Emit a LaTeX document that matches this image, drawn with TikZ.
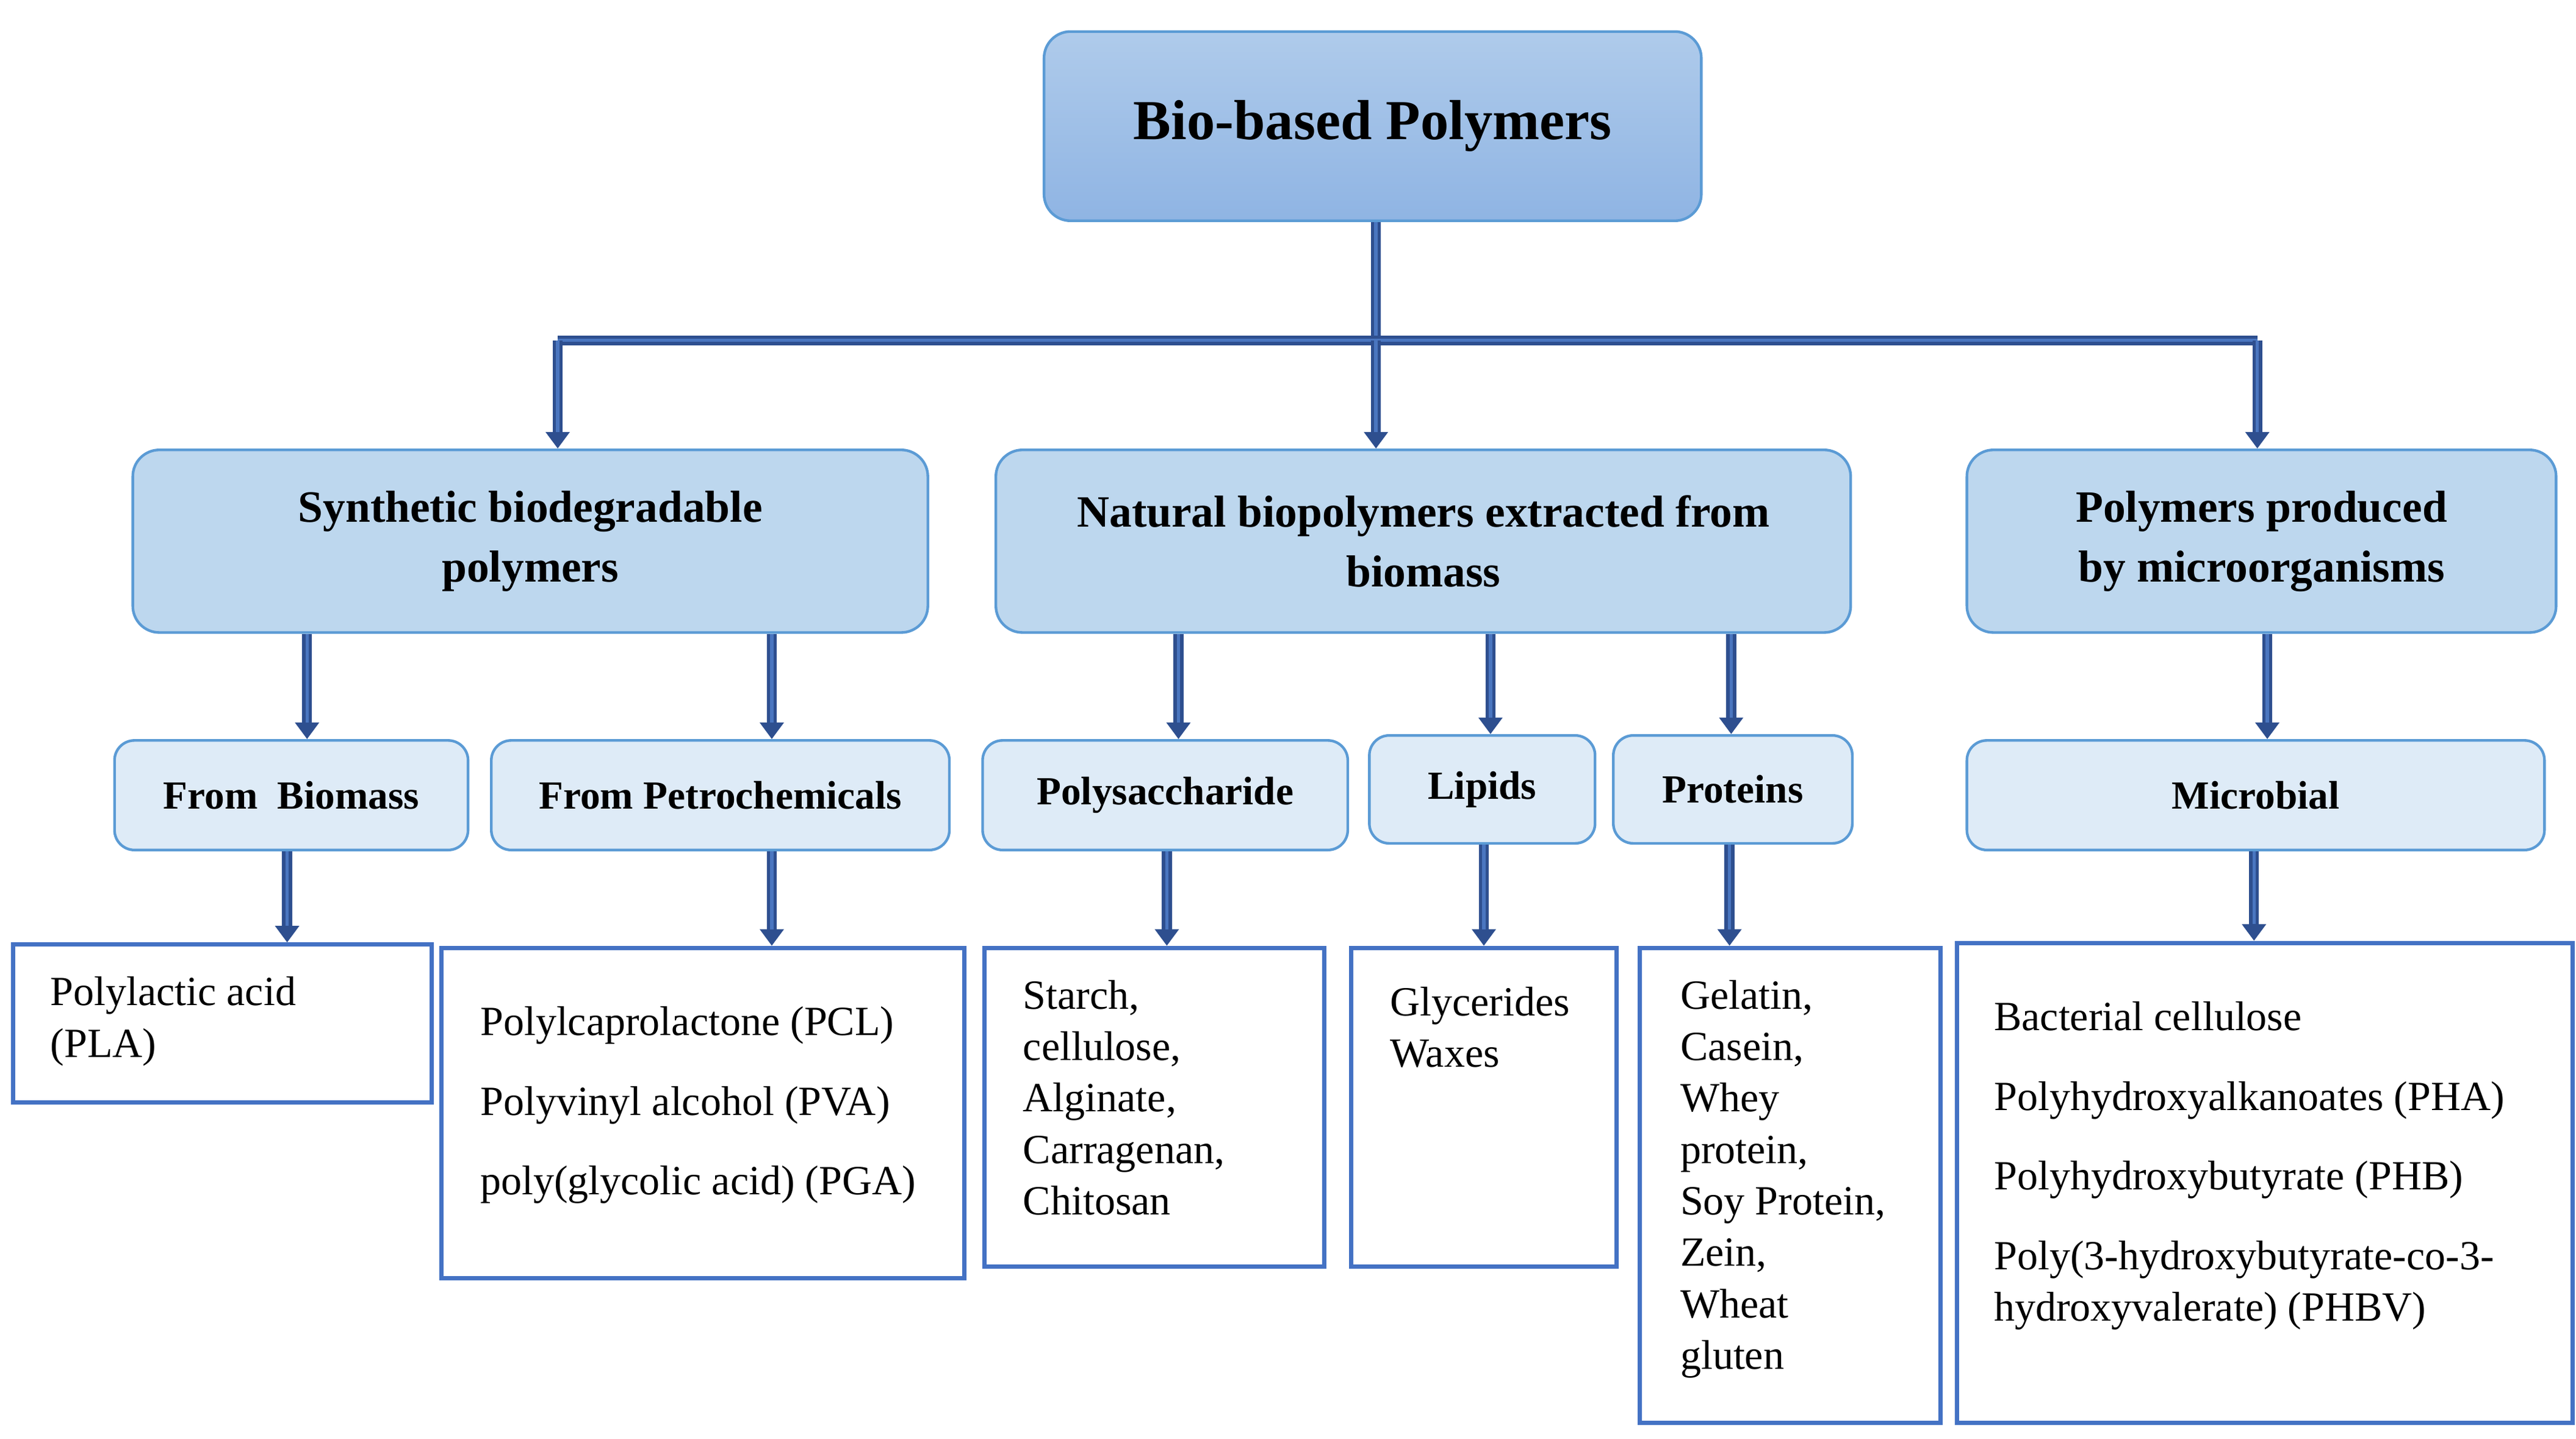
\documentclass[tikz,border=0pt]{standalone}
\usepackage{fontspec}
\setmainfont{Liberation Serif}
\usetikzlibrary{arrows.meta,shadings}
\definecolor{dk}{HTML}{2E4F8F}
\definecolor{md}{HTML}{4A76C0}
\definecolor{bd}{HTML}{5B9BD5}
\definecolor{lv2}{HTML}{BDD7EE}
\definecolor{lv3}{HTML}{DEEBF7}
\definecolor{bx}{HTML}{4472C4}
\definecolor{tt}{HTML}{AFCBEB}
\definecolor{tb}{HTML}{8FB4E3}
\begin{document}
\begin{tikzpicture}[x=0.5pt,y=-0.5pt,
 title/.style={draw=bd,line width=0.8pt,rounded corners=8pt,top color=tt,bottom color=tb,font=\fontsize{17}{20}\selectfont\bfseries},
 l2/.style={draw=bd,line width=0.8pt,rounded corners=8pt,fill=lv2,align=center,font=\fontsize{13.5}{18}\selectfont\bfseries},
 l3/.style={draw=bd,line width=0.8pt,rounded corners=6pt,fill=lv3,align=center,font=\fontsize{12}{14}\selectfont\bfseries},
 l4/.style={draw=bx,line width=1.3pt,fill=white},
 txt/.style={anchor=north west,inner sep=0pt,align=left,font=\fontsize{12.5}{15.5}\selectfont},
 conn/.style={draw=dk,line width=3pt,-{Triangle[length=5pt,width=7pt]},postaction={draw=md,line width=1pt,-,shorten >=5pt}},
 bar/.style={draw=dk,line width=3pt,postaction={draw=md,line width=1pt}}]
\useasboundingbox (0,0) rectangle (1552,866.5);
\node[title,minimum width=198pt,minimum height=57pt] (t) at (827,76) {Bio-based Polymers};
\node[l2,minimum width=239.5pt,minimum height=55pt] (syn) at (319.5,326) {Synthetic biodegradable\\polymers};
\node[l2,minimum width=257.5pt,minimum height=55pt] (nat) at (857.5,326) {Natural biopolymers extracted from\\biomass};
\node[l2,minimum width=177.5pt,minimum height=55pt] (mic) at (1362.5,326) {Polymers produced\\by microorganisms};
\node[l3,minimum width=106.5pt,minimum height=33pt] (bio) at (175.5,479) {From\ \ Biomass};
\node[l3,minimum width=138pt,minimum height=33pt] (pet) at (434,479) {From Petrochemicals};
\node[l3,minimum width=110pt,minimum height=33pt] (pol) at (702,479) {Polysaccharide};
\node[l3,minimum width=68pt,minimum height=32.5pt] (lip) at (893,475.5) {Lipids};
\node[l3,minimum width=72pt,minimum height=32.5pt] (pro) at (1044,475.5) {Proteins};
\node[l3,minimum width=174pt,minimum height=33pt] (mcb) at (1359,479) {Microbial};
\node[l4,minimum width=126pt,minimum height=47.5pt] (b1) at (134,616.5) {};
\node[l4,minimum width=157.5pt,minimum height=99.5pt] (b2) at (423.5,670.5) {};
\node[l4,minimum width=102.5pt,minimum height=96pt] (b3) at (695.5,667) {};
\node[l4,minimum width=80pt,minimum height=96pt] (b4) at (894,667) {};
\node[l4,minimum width=90.5pt,minimum height=143pt] (b5) at (1078.5,714) {};
\node[l4,minimum width=185.5pt,minimum height=144.5pt] (b6) at (1364.5,712.5) {};
\node[txt] (x1) at (30,588) {Polylactic acid\\(PLA)};
\node[txt] (x2) at (289,606) {Polylcaprolactone (PCL)\\[8.5pt]Polyvinyl alcohol (PVA)\\[8.5pt]poly(glycolic acid) (PGA)};
\node[txt] (x3) at (616,590) {Starch,\\cellulose,\\Alginate,\\Carragenan,\\Chitosan};
\node[txt] (x4) at (837,594) {Glycerides\\Waxes};
\node[txt] (x5) at (1012,590) {Gelatin,\\Casein,\\Whey\\protein,\\Soy Protein,\\Zein,\\Wheat\\gluten};
\node[txt] (x6) at (1201,603) {Bacterial cellulose\\[8.5pt]Polyhydroxyalkanoates (PHA)\\[8.5pt]Polyhydroxybutyrate (PHB)\\[8.5pt]Poly(3-hydroxybutyrate-co-3-\\hydroxyvalerate) (PHBV)};
\coordinate (j) at (829,205);
\coordinate (jl) at (336,205);
\coordinate (jr) at (1360,205);
\draw[bar] (t.south -| j) -- (j);
\draw[bar] (jl) -- (jr);
\draw[conn] (jl) -- (jl |- syn.north);
\draw[conn] (j) -- (j |- nat.north);
\draw[conn] (jr) -- (jr |- mic.north);
\draw[conn] (185,0 |- syn.south) -- (185,0 |- bio.north);
\draw[conn] (465,0 |- syn.south) -- (465,0 |- pet.north);
\draw[conn] (710,0 |- nat.south) -- (710,0 |- pol.north);
\draw[conn] (898,0 |- nat.south) -- (898,0 |- lip.north);
\draw[conn] (1043,0 |- nat.south) -- (1043,0 |- pro.north);
\draw[conn] (1366,0 |- mic.south) -- (1366,0 |- mcb.north);
\draw[conn] (173,0 |- bio.south) -- (173,0 |- b1.north);
\draw[conn] (465,0 |- pet.south) -- (465,0 |- b2.north);
\draw[conn] (703,0 |- pol.south) -- (703,0 |- b3.north);
\draw[conn] (894,0 |- lip.south) -- (894,0 |- b4.north);
\draw[conn] (1042,0 |- pro.south) -- (1042,0 |- b5.north);
\draw[conn] (1358,0 |- mcb.south) -- (1358,0 |- b6.north);
\end{tikzpicture}
\end{document}
